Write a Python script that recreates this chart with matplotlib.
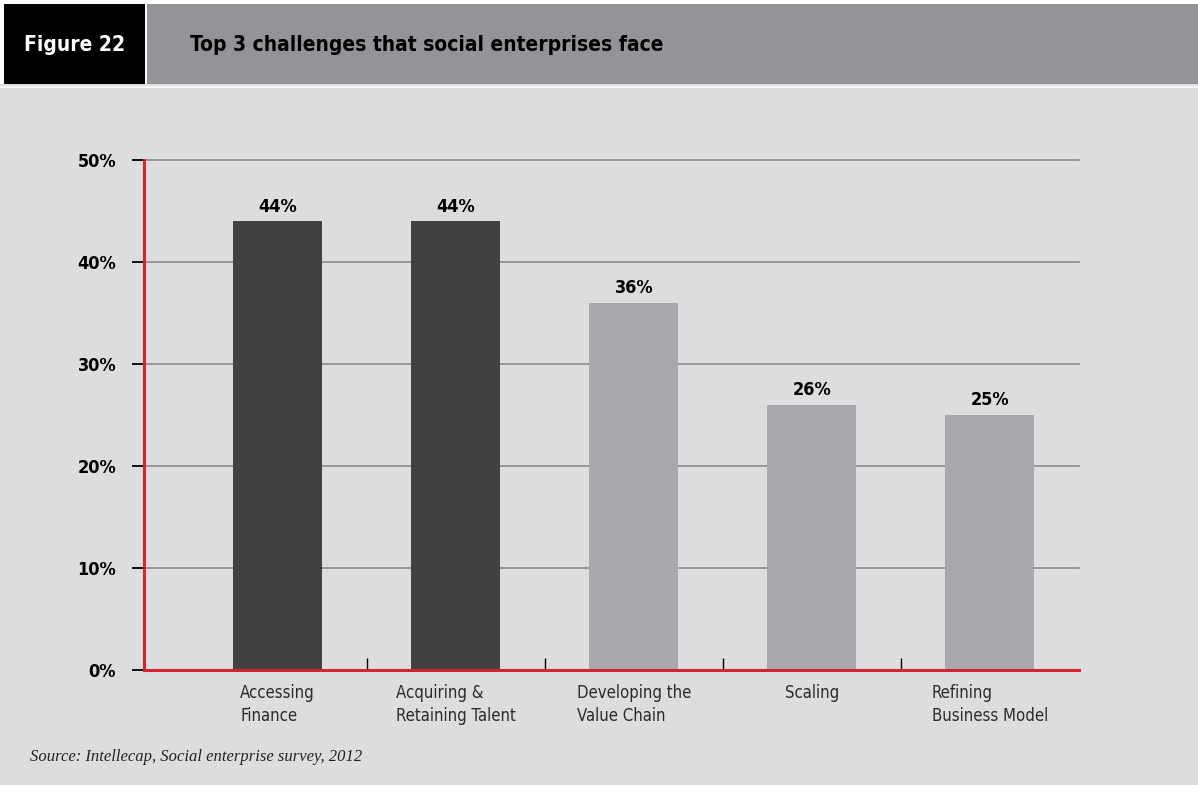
import matplotlib
matplotlib.use('Agg')

import matplotlib.pyplot as plt
import matplotlib.transforms as mtransforms
from matplotlib.patches import Rectangle

# ---------------------------
# DATA
# ---------------------------
categories = ["Accessing\nFinance", "Acquiring &\nRetaining Talent",
              "Developing the\nValue Chain", "Scaling",
              "Refining\nBusiness Model"]
values = [44, 44, 36, 26, 25]
value_labels = ["44%", "44%", "36%", "26%", "25%"]
highlight = [True, True, False, False, False]
yticks = [0, 10, 20, 30, 40, 50]
ytick_labels = ["0%", "10%", "20%", "30%", "40%", "50%"]

# ---------------------------
# STYLE
# ---------------------------
BG = "#dcdddf"
HEADER_GREY = "#939497"
DARK = "#414143"
LIGHT = "#a7a8ab"
RED = "#d8222f"
GRID = "#8a8a8c"
COND = dict(family="DejaVu Sans", stretch="condensed")

W, H = 1198, 785
fig = plt.figure(figsize=(W / 100, H / 100), dpi=100, facecolor=BG)

def px(x, y, w, h):
    return [x / W, 1 - (y + h) / H, w / W, h / H]

# ---------------------------
# HEADER
# ---------------------------
fig.patches.append(Rectangle((0, 1 - 84 / H), 1, 84 / H, transform=fig.transFigure,
                             facecolor="white", edgecolor="none", zorder=0))
fig.patches.append(Rectangle((4 / W, 1 - 84 / H), 141 / W, 80 / H, transform=fig.transFigure,
                             facecolor="black", edgecolor="none", zorder=1))
fig.patches.append(Rectangle((147 / W, 1 - 84 / H), 1 - 147 / W, 80 / H, transform=fig.transFigure,
                             facecolor=HEADER_GREY, edgecolor="none", zorder=1))
fig.patches.append(Rectangle((0, 1 - 88 / H), 1, 2 / H, transform=fig.transFigure,
                             facecolor="#f4f4f4", edgecolor="none", zorder=1))

fig.text(75 / W, 1 - 45 / H, "Figure 22", color="white", fontsize=15,
         fontweight="bold", ha="center", va="center", **COND)
fig.text(190 / W, 1 - 45 / H, "Top 3 challenges that social enterprises face",
         color="black", fontsize=15, fontweight="bold", ha="left", va="center", **COND)

# ---------------------------
# CHART
# ---------------------------
ax = fig.add_axes(px(144, 160, 935, 510))
ax.set_facecolor(BG)

x = list(range(len(values)))
colors = [DARK if h else LIGHT for h in highlight]
ax.bar(x, values, width=0.5, color=colors, zorder=3)

ax.set_xlim(-0.75, 4.5)
ax.set_ylim(0, 50)

for v in yticks[1:]:
    ax.axhline(v, color=GRID, linewidth=1.2, zorder=1, clip_on=False)

for s in ["top", "right"]:
    ax.spines[s].set_visible(False)
for s in ["left", "bottom"]:
    ax.spines[s].set_color(RED)
    ax.spines[s].set_linewidth(2.2)
    ax.spines[s].set_zorder(4)

ax.set_yticks(yticks)
ax.set_yticklabels(ytick_labels, fontsize=13, fontweight="bold", **COND)
ax.tick_params(axis="y", length=9, width=1.3, color="black", pad=11)

ax.set_xticks([])
ax.set_xticks([i + 0.5 for i in range(len(values) - 1)], minor=True)
ax.tick_params(axis="x", which="minor", direction="in", length=9,
               width=1, color="black")

for xi, v, lbl in zip(x, values, value_labels):
    ax.annotate(lbl, (xi, v), xytext=(0, 4), textcoords="offset points",
                ha="center", va="bottom", fontsize=13, fontweight="bold", **COND)

trans = mtransforms.blended_transform_factory(ax.transData, ax.transAxes)
for xi, cat in zip(x, categories):
    ax.text(xi, -0.028, cat, transform=trans, ha="center", va="top",
            multialignment="left", fontsize=12, color="#2b2b2b",
            linespacing=1.35, **COND)

fig.text(30 / W, 1 - 757 / H, "Source: Intellecap, Social enterprise survey, 2012",
         fontsize=12, style="italic", family="Liberation Serif", color="#222222",
         ha="left", va="center")

fig.savefig("out.png", dpi=100, facecolor=BG)
